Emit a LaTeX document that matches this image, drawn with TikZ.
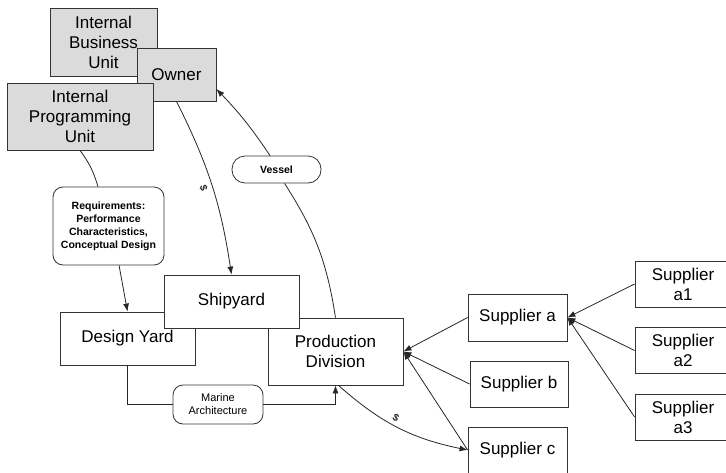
\documentclass[tikz,border=0pt]{standalone}
\usepackage{fontspec}
\setmainfont{Liberation Sans}
\usetikzlibrary{arrows.meta}

\begin{document}
\begin{tikzpicture}[x=1pt,y=-1pt,
      box/.style={draw=black!80,fill=white,line width=0.8pt,align=center,inner sep=0pt,font=\fontsize{17}{20}\selectfont},
      unit/.style={box,fill=black!14},
      tag/.style={draw=black!80,fill=white,line width=0.8pt,rounded corners=10pt,align=center,inner sep=0pt,font=\fontsize{10.5}{13}\selectfont\bfseries},
      flow/.style={black!85,line width=0.8pt},
      >={Latex[length=8pt,width=6pt]}]
      \useasboundingbox (0,0) rectangle (726,472);
% owner side
\node[unit,minimum width=107,minimum height=68] (business) at (103.5,42) {Internal\\Business\\Unit};
\node[unit,minimum width=79,minimum height=53] (owner) at (176.5,74.5) {Owner};
\node[unit,minimum width=146,minimum height=67] (programming) at (80,116.5) {Internal\\Programming\\Unit};
% yards
\node[box,minimum width=135,minimum height=53] (design) at (127.5,338.5) {Design Yard};
\node[box,minimum width=135,minimum height=67] (production) at (335.5,351.5) {Production\\Division};
\node[box,minimum width=135,minimum height=53] (shipyard) at (231.5,301.5) {Shipyard};
% suppliers
\node[box,minimum width=99,minimum height=47] (supa) at (517.5,317.5) {Supplier a};
\node[box,minimum width=98,minimum height=46] (supb) at (519,384) {Supplier b};
\node[box,minimum width=99,minimum height=46] (supc) at (517.5,450) {Supplier c};
\foreach \Name/\Y/\Label in {supa1/284/a1, supa2/350.5/a2, supa3/417/a3}
  \node[box,minimum width=96,minimum height=46] (\Name) at (683,\Y) {Supplier\\\Label};
% labels on the flows
\node[tag,minimum width=111,minimum height=78] (requirements) at (108.5,226) {Requirements:\\Performance\\Characteristics,\\Conceptual Design};
\node[tag,minimum width=89,minimum height=27,rounded corners=13pt] (vessel) at (276.5,169.5) {Vessel};
\node[tag,minimum width=90,minimum height=39,font=\fontsize{11}{13}\selectfont] (marine) at (218,404.5) {Marine\\Architecture};

\draw[flow] (programming.south) to[bend left=10] (requirements.105);
\draw[flow,->] (requirements.-75) -- (design.north);
\draw[flow,->] (owner.south) to[bend left=9] node[pos=0.5,sloped,below=1pt,font=\bfseries] {\$} (shipyard.north);
\draw[flow] (production.north) to[bend right=12] (vessel.-60);
\draw[flow,->] (vessel.115) to[bend right=5] (owner.-20);
\draw[flow] (design.south) |- (marine.west);
\draw[flow,->] (marine.east) -| (production.south);
\draw[flow,->] (production.-85) to[bend right=15] node[pos=0.45,sloped,above=0pt,font=\bfseries] {\$} (supc.west);
\foreach \Name in {supa,supb,supc}
  \draw[flow,->] (\Name.west) -- (production.east);
\foreach \Name in {supa1,supa2,supa3}
  \draw[flow,->] (\Name.west) -- (supa.east);
\end{tikzpicture}
\end{document}
